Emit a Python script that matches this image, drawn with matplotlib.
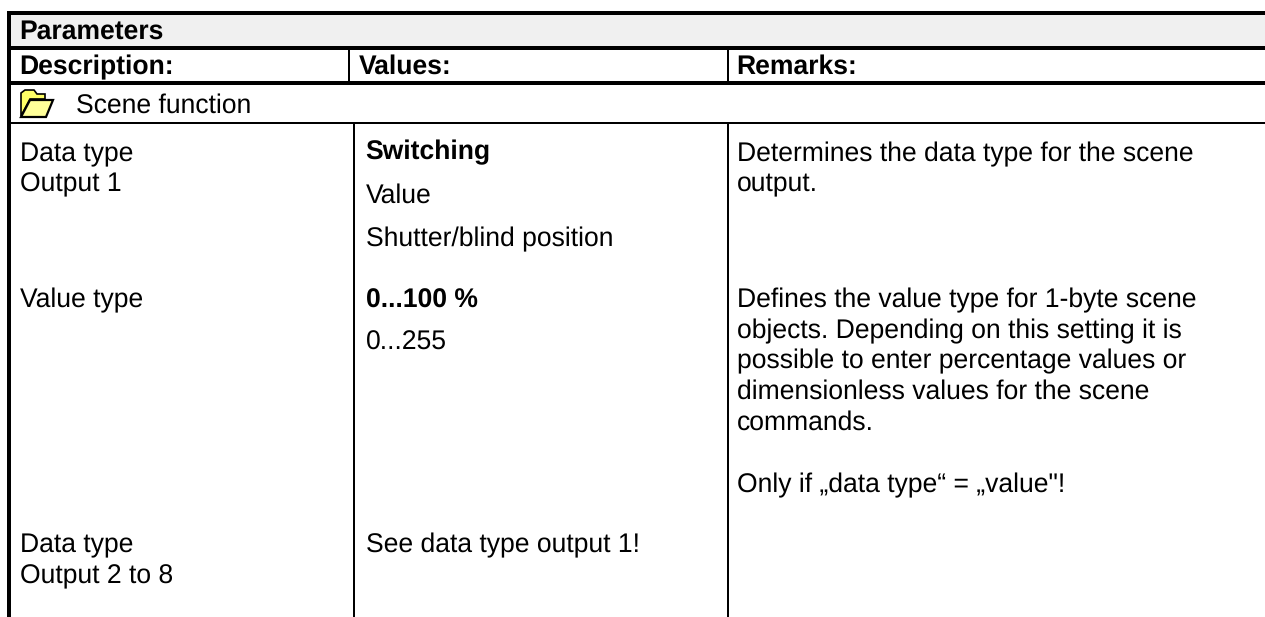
import matplotlib
matplotlib.use("Agg")
import matplotlib.pyplot as plt
from matplotlib.patches import Rectangle, Polygon

W, H = 1265, 617
plt.rcParams['font.family'] = ['Liberation Sans', 'DejaVu Sans']
plt.rcParams['text.hinting'] = 'no_hinting'

title = "Parameters"
headers = ["Description:", "Values:", "Remarks:"]
section = "Scene function"
col1 = [("Data type", 161), ("Output 1", 191), ("Value type", 307), ("Data type", 552), ("Output 2 to 8", 583)]
col2 = [("Switching", 159, True), ("Value", 203, False), ("Shutter/blind position", 246, False),
        ("0...100 %", 308, True), ("0...255", 350, False), ("See data type output 1!", 552, False)]
col3 = ["Determines the data type for the scene", "output.",
        "Defines the value type for 1-byte scene", "objects. Depending on this setting it is",
        "possible to enter percentage values or", "dimensionless values for the scene", "commands.",
        "Only if \u201edata type\u201c = \u201evalue\"!"]
col3_y = [161, 191, 307, 338, 368, 399, 430, 492]

fig = plt.figure(figsize=(W/100, H/100), dpi=100)
ax = fig.add_axes([0, 0, 1, 1])
ax.set_xlim(0, W); ax.set_ylim(H, 0); ax.axis('off')

def rect(x0, y0, x1, y1, c='black'):
    ax.add_patch(Rectangle((x0, y0), x1-x0, y1-y0, fc=c, ec='none', lw=0))

rect(11, 15, W, 46, '#f0f0f0')
rect(7, 11, 11, H)
for y0, y1 in [(11, 15), (46, 50), (81, 85), (122, 124)]:
    rect(7, y0, W, y1)
rect(348, 50, 350, 81); rect(727, 50, 729, 81)
rect(353, 124, 355, H); rect(727, 124, 729, H)

FS = 19.1
def t(x, y, s, bold=False):
    ax.text(x, y, s, fontsize=FS, va='baseline', ha='left', color='black',
            fontweight='bold' if bold else 'normal')

t(19.5, 39, title, True)
for x, s in zip([19.5, 358.5, 736.5], headers):
    t(x, 74, s, True)
t(76, 113, section)
for s, y in col1: t(20, y, s)
for s, y, b in col2: t(365.5, y, s, b)
for s, y in zip(col3, col3_y): t(737, y, s)

# folder icon
ax.add_patch(Polygon([(21,116),(21,93),(25,90),(34,90),(37,94),(45,94),(45,99),(30,99)], fc='#ffff66', ec='black', lw=1.2))
ax.add_patch(Polygon([(21,117),(30,100),(53,100),(46,117)], fc='#ffff99', ec='black', lw=1.6))

fig.savefig("out.png", dpi=100)
